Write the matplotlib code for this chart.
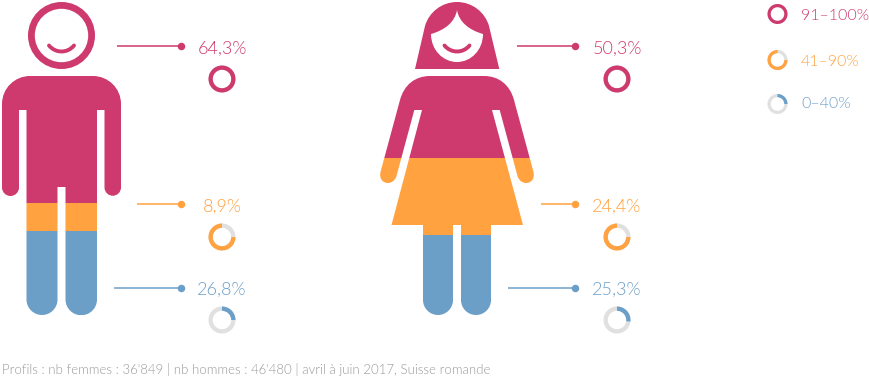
import matplotlib
matplotlib.use("Agg")
import matplotlib.pyplot as plt
from matplotlib.path import Path
from matplotlib.patches import PathPatch, Wedge, Rectangle

# ---- data ----
levels = ["91–100%", "41–90%", "0–40%"]
men_share = [64.3, 8.9, 26.8]
women_share = [50.3, 24.4, 25.3]
men_ring = [1.0, 0.75, 0.25]
women_ring = [1.0, 0.75, 0.27]
legend_ring = [1.0, 0.75, 0.25]
footer = "Profils : nb femmes : 36'849 | nb hommes : 46'480 | avril à juin 2017, Suisse romande"

PINK, ORANGE, BLUE, GREY = "#CE3A6E", "#FFA23F", "#6C9FC8", "#E0E0E0"
colors = [PINK, ORANGE, BLUE]
TOP, BOTTOM = 0.0, 315.0
FONT = ["Lato", "DejaVu Sans"]
WEIGHT = 300

fig = plt.figure(figsize=(8.69, 3.80), dpi=100)
ax = fig.add_axes([0, 0, 1, 1])
ax.set_xlim(0, 869)
ax.set_ylim(380, 0)
ax.axis("off")


class P:
    def __init__(self):
        self.v, self.c = [], []
    def m(self, x, y):
        self.v.append((x, y)); self.c.append(Path.MOVETO); return self
    def l(self, x, y):
        self.v.append((x, y)); self.c.append(Path.LINETO); return self
    def b(self, a, b, c, d, e, f):
        self.v += [(a, b), (c, d), (e, f)]; self.c += [Path.CURVE4] * 3; return self
    def cap(self, x0, x1, y):
        """semicircular bottom going from x0 to x1 at height y"""
        r = abs(x1 - x0) / 2
        k = 0.5523 * r
        s = 1 if x1 > x0 else -1
        xm = (x0 + x1) / 2
        self.b(x0, y + k, xm - s * k, y + r, xm, y + r)
        self.b(xm + s * k, y + r, x1, y + k, x1, y)
        return self
    def z(self):
        self.v.append(self.v[0]); self.c.append(Path.CLOSEPOLY); return self
    def path(self):
        return Path(self.v, self.c)


def circle(p, cx, cy, r, rev=False):
    k = 0.5523 * r
    s = -1 if rev else 1
    p.m(cx + r, cy)
    p.b(cx + r, cy + s * k, cx + k, cy + s * r, cx, cy + s * r)
    p.b(cx - k, cy + s * r, cx - r, cy + s * k, cx - r, cy)
    p.b(cx - r, cy - s * k, cx - k, cy - s * r, cx, cy - s * r)
    p.b(cx + k, cy - s * r, cx + r, cy - s * k, cx + r, cy)
    p.v.append((cx + r, cy)); p.c.append(Path.CLOSEPOLY)


def smile(cx):
    return (P().m(cx - 12.5, 45.5)
            .b(cx - 6, 53.5, cx + 6, 53.5, cx + 12.5, 45.5).path())


def man_paths():
    head = P()
    circle(head, 61.5, 35.5, 33.5)
    circle(head, 61.5, 35.5, 26.7, rev=True)
    body = (P().m(2, 104)
            .b(2, 88, 15, 76, 30, 76)
            .l(93, 76)
            .b(108, 76, 121, 88, 121, 104)
            .l(121, 187.5).cap(121, 104.5, 187.5)
            .l(104.5, 110).l(97, 110)
            .l(97, 299.5).cap(97, 65.5, 299.5)
            .l(65.5, 187).l(57.5, 187)
            .l(57.5, 299.5).cap(57.5, 26.5, 299.5)
            .l(26.5, 110).l(19, 110)
            .l(19, 187.5).cap(19, 2, 187.5)
            .z())
    return [head.path(), body.path()], 61.5


def woman_paths():
    c = 457
    hair = (P().m(c - 42, 69)
            .l(c - 32, 26)
            .b(c - 28, 12, c - 15, 2, c, 2)
            .b(c + 15, 2, c + 28, 12, c + 32, 26)
            .l(c + 42.3, 69)
            .z())
    # face opening, wound the other way
    hair.m(c, 10)
    hair.b(c - 2, 22, c - 12, 30, c - 26, 34)
    hair.b(c - 26, 50, c - 14, 62, c, 62)
    hair.b(c + 14, 62, c + 26, 50, c + 26, 34)
    hair.b(c + 12, 30, c + 2, 22, c, 10)
    hair.v.append((c, 10)); hair.c.append(Path.CLOSEPOLY)
    body = (P().m(c - 57, 100)
            .b(c - 53, 85, c - 42, 76, c - 27, 76)
            .l(c + 27, 76)
            .b(c + 42, 76, c + 53, 85, c + 57, 100)
            .l(c + 76.5, 172)
            .b(c + 78, 179, c + 74, 183, c + 69, 183)
            .b(c + 66, 183, c + 62, 181, c + 60.5, 176)
            .l(c + 42.7, 110).l(c + 35, 110)
            .l(c + 66, 225).l(c + 34, 225)
            .l(c + 34, 300).cap(c + 34, c + 4, 300)
            .l(c + 4, 225).l(c - 4, 225)
            .l(c - 4, 300).cap(c - 4, c - 34, 300)
            .l(c - 34, 225).l(c - 65.5, 225)
            .l(c - 35, 110).l(c - 42.7, 110)
            .l(c - 60.5, 176)
            .b(c - 62, 181, c - 66, 183, c - 69, 183)
            .b(c - 74, 183, c - 78, 179, c - 76.5, 172)
            .z())
    return [hair.path(), body.path()], c


def figure(paths, cx, share):
    """Paint the silhouette in stacked bands sized by the shares."""
    height = BOTTOM - TOP
    y = TOP
    for value, col in zip(share, colors):
        h = height * value / 100
        clip = Rectangle((0, y), 869, h, transform=ax.transData)
        for pth in paths:
            pp = PathPatch(pth, fc=col, ec="none", lw=0, zorder=2)
            ax.add_patch(pp)
            pp.set_clip_path(clip)
        y += h
    ax.add_patch(PathPatch(smile(cx), fc="none", ec=PINK, lw=2.8, capstyle="round", zorder=3))


def ring(cx, cy, ro, w, frac, col):
    ax.add_patch(Wedge((cx, cy), ro, 0, 360, width=w, fc=GREY, ec="none", zorder=2))
    if frac >= 1:
        ax.add_patch(Wedge((cx, cy), ro, 0, 360, width=w, fc=col, ec="none", zorder=3))
    elif frac > 0.5:
        # arc that ends at 12 o'clock
        ax.add_patch(Wedge((cx, cy), ro, 270 - 360 * frac, 270, width=w, fc=col, ec="none", zorder=3))
    else:
        # arc that starts at 12 o'clock
        ax.add_patch(Wedge((cx, cy), ro, -90, -90 + 360 * frac, width=w, fc=col, ec="none", zorder=3))


def callouts(share, rings, text_x, dot_x, starts):
    rows_y = [46, 204, 287.5]
    base_y = [53.5, 211.5, 295]
    ring_y = [79, 237, 320]
    for i, col in enumerate(colors):
        ax.plot([starts[i], dot_x], [rows_y[i]] * 2, color=col, lw=1.1, zorder=2,
                solid_capstyle="butt")
        ax.plot([dot_x], [rows_y[i]], "o", ms=5.4, mfc=col, mec="none", zorder=3)
        label = f"{share[i]:.1f}%".replace(".", ",")
        ax.text(text_x, base_y[i], label, color=col, ha="center", va="baseline",
                fontsize=13, family=FONT, weight=WEIGHT)
        ring(text_x, ring_y[i], 13.5, 4.3, rings[i], col)


pm, cm = man_paths()
figure(pm, cm, men_share)
pw, cw = woman_paths()
figure(pw, cw, women_share)

callouts(men_share, men_ring, 222, 180.5, [117, 137, 113.5])
callouts(women_share, women_ring, 617, 574.5, [517, 541, 508])

for lab, frac, col, ry, by in zip(levels, legend_ring, colors, [14, 60, 104], [20, 65.5, 108.5]):
    ring(777.5, ry, 10, 3.2, frac, col)
    ax.text(801, by, lab, color=col, ha="left", va="baseline", fontsize=11.5, family=FONT, weight=WEIGHT)

ax.text(2, 374, footer, color="#999999", ha="left", va="baseline", fontsize=9.5, family=FONT, weight=WEIGHT)

fig.savefig("out.png", dpi=100, facecolor="white")
